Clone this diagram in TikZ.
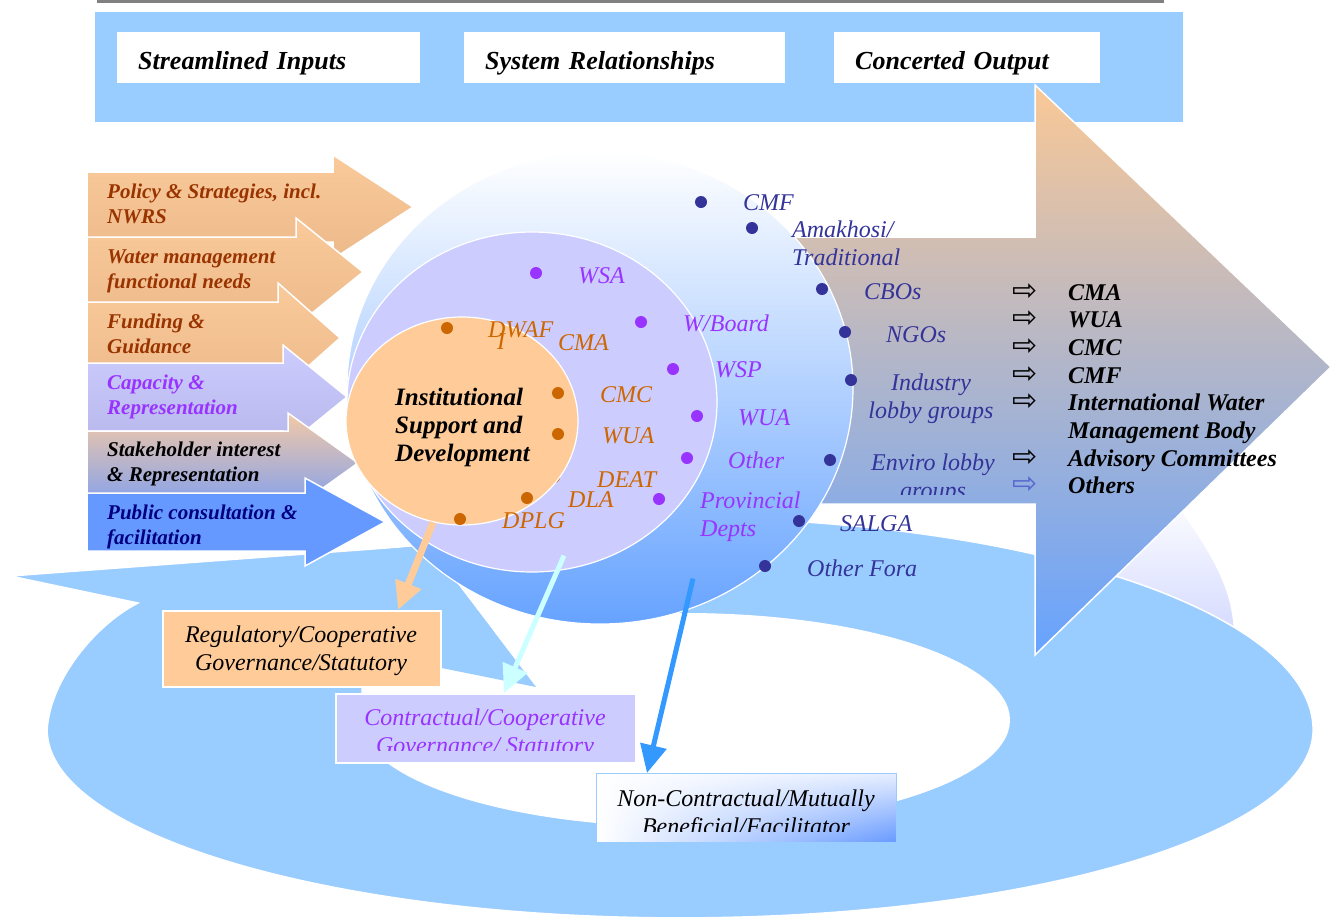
\documentclass[tikz,border=0pt]{standalone}
\usepackage{fontspec}
\setmainfont{Liberation Serif}
\newfontfamily\arrowfont{DejaVu Sans}
\usetikzlibrary{shapes.geometric,arrows.meta,calc,shadings}

\definecolor{skyband}{HTML}{99CCFF}
\definecolor{peach}{HTML}{FFCC99}
\definecolor{lav}{HTML}{CCCCFF}
\definecolor{brick}{HTML}{993300}
\definecolor{cviolet}{HTML}{9933FF}
\definecolor{cnavy}{HTML}{000080}
\definecolor{cdeep}{HTML}{333399}
\definecolor{corange}{HTML}{CC6600}
\definecolor{cblue}{HTML}{6699FF}
\definecolor{cazure}{HTML}{3399FF}
\definecolor{ccyan}{HTML}{CCFFFF}
\definecolor{peachtop}{HTML}{FACA9A}
\definecolor{peachbot}{HTML}{ECB98A}
\definecolor{lavtop}{HTML}{CCCCFF}
\definecolor{lavbot}{HTML}{B6B6EA}
\definecolor{stktop}{HTML}{F3C9A6}
\definecolor{stkbot}{HTML}{7C9EF2}
\definecolor{bigtop}{HTML}{FAC896}
\definecolor{bigmid}{HTML}{C3B9CF}
\definecolor{bigbot}{HTML}{66A3FF}
\definecolor{orbmid}{HTML}{C8D8FF}
\definecolor{swoosh}{HTML}{D3D9FF}
\definecolor{lastarrow}{HTML}{5566CC}
\definecolor{boxtint}{HTML}{E6EEFF}

% stacked lines: first line carries the baseline
\newcommand\lstack[1]{\vtop{\halign{##\hfil\cr#1\crcr}}}
\newcommand\cstack[1]{\vtop{\halign{\hfil##\hfil\cr#1\crcr}}}

\begin{document}
\begin{tikzpicture}[x=1pt,y=-1pt,
  every node/.style={inner sep=0pt},
  hdr/.style={fill=white, minimum height=51pt, inner xsep=21pt, inner ysep=0pt,
    text height=23pt, text depth=0pt, align=left, anchor=north west,
    font=\fontsize{26}{30}\selectfont\bfseries\itshape},
  inarrow/.style={draw=white, line width=1.5pt},
  intext/.style={anchor=base west, font=\fontsize{21}{25}\selectfont\bfseries\itshape},
  lbl/.style={anchor=base west, font=\fontsize{24}{28}\selectfont\itshape},
  orb/.style={ellipse, draw=white, line width=1.2pt},
  govbox/.style={anchor=north west, draw=white, line width=1.5pt},
  govtext/.style={anchor=base, font=\fontsize{24}{28}\selectfont\itshape},
  conn/.style={-{Triangle[length=28pt,width=26pt]}},
]
\useasboundingbox (0,0) rectangle (1333,916);

% ---------- header strip ----------
\draw[line width=3pt, color=gray] (97,1.5) -- (1164,1.5);
\fill[skyband] (95,12) rectangle (1183,122);
\node[hdr, text width=261pt] (hin)  at (117,32) {Streamlined Inputs};
\node[hdr, text width=279pt] (hsys) at (464,32) {System Relationships};
\node[hdr, text width=224pt] (hout) at (834,32) {Concerted Output};

% ---------- circular swoosh ----------
\shade[top color=white, bottom color=swoosh]
  (1095,490) -- (1182,512) .. controls (1215,560) and (1234,592) .. (1234,640)
  -- (1095,640) -- cycle;
\fill[skyband, draw=white, line width=1.5pt]
  (700,518) arc[start angle=-88.2, end angle=0, x radius=633, y radius=212]
  arc[start angle=0, end angle=180, x radius=633, y radius=188]
  .. controls (50,680) and (95,625) .. (138,603) -- (10,576) -- (480,541) -- cycle;
% opening of the swoosh
\fill[white] (685,720) ellipse[x radius=325, y radius=107];
\fill[white] (409,520) -- (536,687) -- (362,652) -- (361,720) -- (640,720)
  -- (640,560) -- cycle;
% inner barb of the swoosh head
\fill[skyband] (428,545) -- (536,687) -- (362,652) -- (362,552) -- cycle;

% ---------- output arrow ----------
\shade[top color=bigtop, middle color=bigmid, bottom color=bigbot, draw=white, line width=1.5pt]
  (790,237) -- (1035,237) -- (1035,85) -- (1331,367) -- (1035,655) -- (1035,504)
  -- (790,504) -- cycle;

% ---------- input arrows ----------
\shade[inarrow, top color=peachtop, bottom color=peachbot]
  (87,172) -- (333,172) -- (333,155) -- (413,207) -- (333,259) -- (333,242) -- (87,242) -- cycle;
\shade[inarrow, top color=peachtop, bottom color=peachbot]
  (87,237) -- (296,237) -- (296,218) -- (363,272) -- (296,326) -- (296,307) -- (87,307) -- cycle;
\shade[inarrow, top color=peachtop, bottom color=peachbot]
  (87,302) -- (278,302) -- (278,283) -- (340,338) -- (278,393) -- (278,374) -- (87,374) -- cycle;
\shade[inarrow, top color=lavtop, bottom color=lavbot]
  (87,363) -- (283,363) -- (283,345) -- (347,397) -- (283,449) -- (283,431) -- (87,431) -- cycle;
\shade[inarrow, top color=stktop, bottom color=stkbot]
  (87,431) -- (288,431) -- (288,413) -- (358,463) -- (288,513) -- (288,495) -- (87,495) -- cycle;
\fill[inarrow, fill=cblue]
  (87,493) -- (305,493) -- (305,478) -- (385,522) -- (305,566) -- (305,551) -- (87,551) -- cycle;

\node[intext, text=brick] (policy) at (107,198) {\lstack{Policy \& Strategies, incl.\cr NWRS}};
\node[intext, text=brick] (needs) at (107,263) {\lstack{Water management\cr functional needs}};
\node[intext, text=brick] (funding) at (107,328) {\lstack{Funding \&\cr Guidance}};
\node[intext, text=cviolet] (capacity) at (107,389) {\lstack{Capacity \&\cr Representation}};
\node[intext, text=black] (stake) at (107,456) {\lstack{Stakeholder interest\cr \& Representation}};
\node[intext, text=cnavy] (public) at (107,519) {\lstack{Public consultation \&\cr facilitation}};

% ---------- nested system rings ----------
\node[orb, minimum width=506pt, minimum height=472pt, top color=white, middle color=orbmid,
  bottom color=bigbot] (outer) at (600,388) {};
\node[orb, fill=lav, minimum width=370pt, minimum height=340pt] (mid) at (532,402) {};
\fill[corange] (554,477) circle[radius=6pt];
\node[orb, fill=peach, minimum width=232pt, minimum height=208pt] (inner) at (462,421) {};

\node[anchor=base west, font=\fontsize{25}{28}\selectfont\bfseries\itshape] (isd) at (395,405)
  {\lstack{Institutional\cr Support and\cr Development}};

% inner (orange) members
\foreach \p in {(447,328),(558,393),(558,434),(527,498),(460,519)}
  \fill[corange] \p circle[radius=6pt];
\node[lbl, text=corange] (dwaf) at (488,337) {DWAF};
\node[lbl, text=corange] (dwafbar) at (497,349) {I};
\node[lbl, text=corange] (icma) at (558,350) {CMA};
\node[lbl, text=corange] (icmc) at (600,402) {CMC};
\node[lbl, text=corange] (iwua) at (602,443) {WUA};
\node[lbl, text=corange] (deat) at (597,487) {DEAT};
\node[lbl, text=corange] (dla) at (568,507) {DLA};
\node[lbl, text=corange] (dplg) at (502,528) {DPLG};

% middle (violet) members
\foreach \p in {(536,273),(641,322),(673,369),(697,416),(687,458),(659,499)}
  \fill[cviolet] \p circle[radius=6pt];
\node[lbl, text=cviolet] (wsa) at (578,283) {WSA};
\node[lbl, text=cviolet] (wboard) at (683,331) {W/Board};
\node[lbl, text=cviolet] (wsp) at (715,377) {WSP};
\node[lbl, text=cviolet] (mwua) at (738,425) {WUA};
\node[lbl, text=cviolet] (mother) at (728,468) {Other};
\node[lbl, text=cviolet] (prov) at (700,508) {\lstack{Provincial\cr Depts}};

% outer (deep blue) members
\foreach \p in {(701,202),(752,228),(822,289),(845,332),(851,380),(830,460),(799,521),(765,566)}
  \fill[cdeep] \p circle[radius=6pt];
\node[lbl, text=cdeep] (ocmf) at (743,210) {CMF};
\node[lbl, text=cdeep] (amak) at (792,237) {\lstack{Amakhosi/\cr Traditional}};
\node[lbl, text=cdeep] (cbos) at (864,299) {CBOs};
\node[lbl, text=cdeep] (ngos) at (886,342) {NGOs};
\node[lbl, text=cdeep, anchor=base] (industry) at (931,390) {\cstack{Industry\cr lobby groups}};
\begin{scope}
  \clip (850,440) rectangle (1010,494);
  \node[lbl, text=cdeep, anchor=base] (enviro) at (933,470) {\cstack{Enviro lobby\cr groups}};
\end{scope}
\node[lbl, text=cdeep] (salga) at (840,531) {SALGA};
\node[lbl, text=cdeep] (fora) at (807,576) {Other Fora};

% ---------- concerted outputs ----------
\node[anchor=base west, font=\fontsize{30}{27.7}\selectfont\arrowfont] (marks) at (1012,300)
  {\lstack{⇨\cr ⇨\cr ⇨\cr ⇨\cr ⇨\cr \cr ⇨\cr \textcolor{lastarrow}{⇨}}};
\node[anchor=base west, font=\fontsize{24}{27.7}\selectfont\bfseries\itshape] (outputs) at (1068,300)
  {\lstack{CMA\cr WUA\cr CMC\cr CMF\cr International Water\cr Management Body\cr Advisory Committees\cr Others}};

% ---------- governance boxes ----------
\node[govbox, fill=peach, minimum width=278pt, minimum height=76pt] (reg) at (162,610) {};
\node[govtext] (regt) at (301,642) {\cstack{Regulatory/Cooperative\cr Governance/Statutory}};

\node[govbox, fill=lav, minimum width=300pt, minimum height=69pt] (con) at (335,693) {};
\begin{scope}
  \clip (335,693) rectangle (635,750);
  \node[govtext, text=cviolet] (cont) at (485,725) {\cstack{Contractual/Cooperative\cr Governance/ Statutory}};
\end{scope}

\node[govbox, draw=skyband, line width=1pt, minimum width=300pt, minimum height=69pt,
  upper left=white, upper right=boxtint, lower left=white, lower right=cblue] (ncon) at (596,773) {};
\begin{scope}
  \clip (596,773) rectangle (896,831);
  \node[govtext] (ncont) at (746,806) {\cstack{Non-Contractual/Mutually\cr Beneficial/Facilitator}};
\end{scope}

% ---------- relationship connectors ----------
\draw[conn, draw=peach, fill=peach, line width=7pt] (inner.254) -- ($(reg.north west)+(236,0)$);
\draw[conn, draw=ccyan, fill=ccyan, line width=5pt] ($(mid.south)+(32,-17)$) -- ($(con.north west)+(169,0)$);
\draw[conn, draw=cazure, fill=cazure, line width=5pt] ($(outer.south)+(93,-46)$) -- ($(ncon.north west)+(51,0)$);

\end{tikzpicture}
\end{document}
